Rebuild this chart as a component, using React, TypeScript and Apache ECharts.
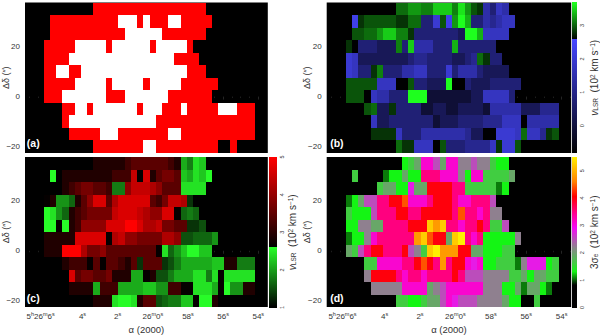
import React, { useEffect, useRef } from "react";
import * as echarts from "echarts";

const FONT = '"Liberation Sans", Arial, sans-serif';
const INK = "#333333";

// Each row: [first column, cell codes]. Rows run from dec 35" down to -20" in 5" steps.
const rowDec = [35, 30, 25, 20, 15, 10, 5, 0, -5, -10, -15, -20];

const maskRows: [number, string][] = [
  [11, "rrrrrrrrrrrrrrrrrr"],
  [4, "rrrrrrrrrrrwwwrwrrrwwrrrrr"],
  [4, "rrrrrrrrrrrrwwwwwwrrrrrrr"],
  [3, "rrrrrwwwwwrwwwwwwrwwwwwr"],
  [3, "rrrrwwwwwwwwwwwwwwwwwrrrr"],
  [3, "rrwwrrwwwwwwwwwwwwwwwwwrrr"],
  [3, "rrrrrwwwwwrwwwwwrwwwwwrrrrrr"],
  [3, "rrrwwwwwwwrrrwwwwwwwrrrrrrr"],
  [6, "rrwwrwwwwwwwrwwwrrrwrrrrrwwwrrr"],
  [6, "rwwwwwwwwwwwwwwrrrrrrrrrrrrrrrr"],
  [7, "rrrrrwwwrrrrrrrrwwrrrrrrrrrrrr"],
  [11, "rrrrrrrrwwrrrrrrrrrr..r"],
];

// digits: below the wedge break; capitals: above it
const velocityBRows: [number, string][] = [
  [11, "CCEEDDGGGDHEBA5365"],
  [4, "8ABBBBBAACC337B8EIF3354566"],
  [4, "BBCCEGGDDA33333332IIF6666"],
  [3, "A0333222D3G555333F333333"],
  [3, "762222222234433332234CA33"],
  [3, "7633AD33355663337355532222"],
  [3, "BBBBB66600B33222I00322233333"],
  [3, "BBB0655333III11111112266663"],
  [6, "BC22A33331122112222155555222444"],
  [7, "622333333312223333444666055555"],
  [7, "AAAA63335555555422007776C664AB"],
  [11, "CAA6660B33344446A77B"],
];

const velocityCRows: [number, string][] = [
  [11, "11111233333321FDHG"],
  [4, "I.1111111122270813443GFHGI"],
  [6, "12344332DD577765333HHHH"],
  [3, "01EEC135883688888324776A"],
  [3, "IHEC123444478887655880CDC"],
  [3, "II0I1255558889986674433AAB"],
  [3, "1111188888067554444665BBCCCE"],
  [3, "1119996445333333330HCEGIIGG"],
  [6, "122203033213A333ABDFFFFFGG11DDD"],
  [7, "8344334111FF01BBDFFFHHDH0HHHHH"],
  [7, "1111F222FFFFGGEE2200HHHF0IEE11"],
  [11, "111HIIH133BCDDGG0II1"],
];

const dispersionRows: [number, string][] = [
  [12, "bcdhhfdhheefeecbb"],
  [4, "c....abbdbbiiihhhebhhccccd"],
  [8, "cddbbgddjjjjiicccccab"],
  [3, "abdffiijjkhhhijjjihhiiif"],
  [3, "cbbbfiiijjiijjjjjikiihiee"],
  [3, "bbeeddiiiijjjmlmiihiijiccf"],
  [3, "abbehiiiiiilmkjjdmnihibbbbbe"],
  [3, "dcfijjiiijfecmnllljjddbbbcc"],
  [6, "cchhhhiijkjilijjhghbbcccaegggbc"],
  [6, "ejjjjihiihiiiijifffeeeeccdbddcc"],
  [7, "eeeeehhhhdefhhhhhheeebbdaddba"],
  [11, "ccbbcddfhgfffeeeedbb..c"],
];

// code -> value tables
const blueLevels = [-0.8, -0.1, 0.35, 0.75, 1.1, 1.45, 1.75, 2.0, 2.3, 2.58];
const greenLevelsB = [2.82, 2.96, 3.06, 3.15, 3.25, 3.36, 3.47, 3.58, 3.69];
const redLevels = [2.65, 2.9, 3.2, 3.45, 3.7, 3.95, 4.25, 4.45, 4.65, 5.0];
const greenLevelsC = [1.32, 1.5, 1.64, 1.78, 1.92, 2.07, 2.24, 2.42, 2.58];
const dispersionCodes = "abcdefghijklmn";
const dispersionLevels = [1.05, 1.3, 1.6, 1.9, 2.2, 2.5, 2.8, 3.1, 3.5, 4.0, 4.4, 4.8, 5.2, 5.5];

const raMajor = [6, 4, 2, 0, -2, -4, -6];
const raLabels = [
  "{n|5}{s|h}{n|26}{s|m}{n|6}{s|s}{p|\u00a0\u00a0\u00a0\u00a0\u00a0\u00a0}",
  "{n|4}{s|s}",
  "{n|2}{s|s}",
  "{n|26}{s|m}{n|0}{s|s}",
  "{n|58}{s|s}",
  "{n|56}{s|s}",
  "{n|54}{s|s}",
];
const raMinor = [7, 6.5, 5.5, 5, 4.5, 3.5, 3, 2.5, 1.5, 1, 0.5, -0.5, -1, -1.5, -2.5, -3, -3.5, -4.5, -5, -5.5, -6.5];
const decMajor = [-20, 0, 20];
const decMinor = [-10, 10, 30];

const RA_LEFT = 7.27;
const RA_RIGHT = -6.54;
const COL_W = 0.3541;
const ROW_H = 5;

const mix = (a: number[], b: number[], t: number) => {
  const c = a.map((v, i) => Math.round(v + (b[i] - v) * t));
  return `rgb(${c[0]},${c[1]},${c[2]})`;
};
const ramp = (stops: [number, number[]][], v: number) => {
  if (v <= stops[0][0]) return mix(stops[0][1], stops[0][1], 0);
  for (let i = 1; i < stops.length; i++) {
    if (v <= stops[i][0]) {
      return mix(stops[i - 1][1], stops[i][1], (v - stops[i - 1][0]) / (stops[i][0] - stops[i - 1][0]));
    }
  }
  return mix(stops[stops.length - 1][1], stops[stops.length - 1][1], 0);
};

const colorB = (v: number) =>
  v < 2.6
    ? mix([0, 0, 0], [70, 70, 255], Math.max(0, (v + 0.82) / 3.42))
    : mix([0, 0, 0], [30, 255, 30], (v - 2.6) / 1.09);
const colorC = (v: number) =>
  v < 2.6 ? mix([0, 0, 0], [40, 255, 40], (v - 1) / 1.6) : mix([0, 0, 0], [255, 0, 0], (v - 2.6) / 2.4);
const dStops: [number, number[]][] = [
  [0.8, [0, 0, 0]],
  [1.3, [20, 245, 20]],
  [1.6, [65, 205, 65]],
  [2.15, [136, 136, 136]],
  [2.9, [245, 10, 245]],
  [3.4, [255, 0, 150]],
  [4.05, [255, 0, 0]],
  [4.6, [255, 130, 0]],
  [5.5, [255, 240, 0]],
];
const colorD = (v: number) => ramp(dStops, v);
const colorA = (v: number) => (v === 1 ? "#ff0000" : "#ffffff");

const decodeA = (c: string) => (c === "r" ? 1 : 2);
const decodeB = (c: string) => (c >= "0" && c <= "9" ? blueLevels[+c] : greenLevelsB[c.charCodeAt(0) - 65]);
const decodeC = (c: string) => (c >= "0" && c <= "9" ? redLevels[+c] : greenLevelsC[c.charCodeAt(0) - 65]);
const decodeD = (c: string) => dispersionLevels[dispersionCodes.indexOf(c)];

const cells = (rows: [number, string][], decode: (c: string) => number) => {
  const out: number[][] = [];
  rows.forEach(([start, codes], r) => {
    codes.split("").forEach((c, i) => {
      if (c === ".") return;
      out.push([RA_LEFT - COL_W * (start + i + 0.5), rowDec[r], decode(c)]);
    });
  });
  return out;
};

const cellRenderer = (color: (v: number) => string) => (_: any, api: any) => {
  const x = api.value(0);
  const y = api.value(1);
  const p0 = api.coord([x + COL_W / 2, y + ROW_H / 2]);
  const p1 = api.coord([x - COL_W / 2, y - ROW_H / 2]);
  const x0 = Math.round(p0[0]);
  const y0 = Math.round(p0[1]);
  return {
    type: "rect",
    shape: { x: x0, y: y0, width: Math.round(p1[0]) - x0, height: Math.round(p1[1]) - y0 },
    style: { fill: color(api.value(2)) },
  };
};

const wedgeRenderer = (color: (v: number) => string, step: number) => (_: any, api: any) => {
  const v = api.value(1);
  const p0 = api.coord([0, v + step / 2]);
  const p1 = api.coord([1, v - step / 2]);
  const y0 = Math.round(p0[1]);
  return {
    type: "rect",
    shape: { x: p0[0], y: y0, width: p1[0] - p0[0], height: Math.max(1, Math.round(p1[1]) - y0) },
    style: { fill: color(v) },
  };
};

const wedgeValues = (lo: number, hi: number, n: number) => {
  const out: number[][] = [];
  for (let i = 0; i < n; i++) out.push([0.5, lo + ((hi - lo) * (i + 0.5)) / n]);
  return out;
};

const PANELS = [
  { left: 23.3, top: 2.5, rows: maskRows, decode: decodeA, color: colorA, labels: false, tag: "(a)" },
  { left: 326.7, top: 2.5, rows: velocityBRows, decode: decodeB, color: colorB, labels: false, tag: "(b)" },
  { left: 23.3, top: 157, rows: velocityCRows, decode: decodeC, color: colorC, labels: true, tag: "(c)" },
  { left: 326.7, top: 157, rows: dispersionRows, decode: decodeD, color: colorD, labels: true, tag: "(d)" },
];
const PW = 244.5;
const PH = 150.5;

const nameRich = {
  n: { fontSize: 10, fontFamily: FONT, color: INK },
  i: { fontSize: 10, fontFamily: FONT, color: INK, fontStyle: "italic" as const },
  u: { fontSize: 6.5, fontFamily: FONT, color: INK, verticalAlign: "top" as const, lineHeight: 10 },
  d: { fontSize: 6.5, fontFamily: FONT, color: INK, verticalAlign: "bottom" as const, lineHeight: 10 },
};
const velName = "{i|v}{d|LSR}{n|  (10}{u|2}{n| km s}{u|−1}{n|)}";
const sigName = "{n|3σ}{d|e}{n|  (10}{u|2}{n| km s}{u|−1}{n|)}";

const WEDGES = [
  { left: 572, top: 2.5, min: -0.82, max: 3.69, ticks: [0, 1, 2, 3], color: colorB, name: velName, gap: 12 },
  { left: 269, top: 157, min: 1, max: 5, ticks: [1, 2, 3, 4, 5], color: colorC, name: velName, gap: 10 },
  { left: 572, top: 157, min: 0, max: 5.5, ticks: [0, 1, 2, 3, 4, 5], color: colorD, name: sigName, gap: 12 },
];

export default function App() {
  const ref = useRef<HTMLDivElement>(null);
  useEffect(() => {
    document.body.style.margin = "0";
    const chart = echarts.init(ref.current!, null, { renderer: "svg" });
    const grid: any[] = [];
    const xAxis: any[] = [];
    const yAxis: any[] = [];
    const series: any[] = [];
    const graphic: any[] = [];

    PANELS.forEach((p) => {
      const g = grid.length;
      grid.push({ left: p.left, top: p.top, width: PW, height: PH, show: true, backgroundColor: "#000", borderWidth: 0 });
      const xi = xAxis.length;
      const yi = yAxis.length;
      const xBase = { type: "value", gridIndex: g, min: RA_RIGHT, max: RA_LEFT, inverse: true, position: "bottom", splitLine: { show: false }, axisLine: { show: false } };
      xAxis.push({
        ...xBase,
        axisTick: { show: true, length: 3, inside: false, lineStyle: { color: INK, width: 0.7 }, customValues: raMajor },
        axisLabel: p.labels
          ? {
              show: true,
              margin: 4,
              customValues: raMajor,
              formatter: (v: number) => raLabels[raMajor.indexOf(v)] ?? "",
              rich: {
                n: { fontSize: 8, fontFamily: FONT, color: INK, lineHeight: 10 },
                s: { fontSize: 5.5, fontFamily: FONT, color: INK, verticalAlign: "top", lineHeight: 10 },
                p: { fontSize: 8, fontFamily: FONT, color: INK, lineHeight: 10 },
              },
            }
          : { show: false },
        ...(p.labels
          ? { name: "α (2000)", nameMoveOverlap: false, nameLocation: "middle", nameGap: 17, nameTextStyle: { fontSize: 9.5, fontFamily: FONT, color: INK, verticalAlign: "top" } }
          : {}),
      });
      xAxis.push({
        ...xBase,
        axisTick: { show: true, length: 1.5, lineStyle: { color: INK, width: 0.6 }, customValues: raMinor },
        axisLabel: { show: false },
      });
      const yBase = { type: "value", gridIndex: g, min: -22.5, max: 37.5, position: "left", splitLine: { show: false }, axisLine: { show: false } };
      yAxis.push({
        ...yBase,
        axisTick: { show: true, length: 3, lineStyle: { color: INK, width: 0.7 }, customValues: decMajor },
        axisLabel: {
          show: true,
          margin: 5,
          customValues: decMajor,
          fontSize: 8,
          fontFamily: FONT,
          color: INK,
          formatter: (v: number) => String(v).replace("-", "−"),
        },
        name: "Δδ (″)",
        nameMoveOverlap: false,
        nameLocation: "middle",
        nameGap: 15,
        nameTextStyle: { fontSize: 9, fontFamily: FONT, color: INK },
      });
      yAxis.push({
        ...yBase,
        axisTick: { show: true, length: 1.5, lineStyle: { color: INK, width: 0.6 }, customValues: decMinor },
        axisLabel: { show: false },
      });
      series.push({
        type: "custom",
        xAxisIndex: xi,
        yAxisIndex: yi,
        coordinateSystem: "cartesian2d",
        data: cells(p.rows, p.decode),
        encode: { x: 0, y: 1 },
        renderItem: cellRenderer(p.color),
        silent: true,
        z: 2,
      });
      graphic.push({
        type: "text",
        x: p.left + 3.5,
        y: p.top + PH - 15.5,
        silent: true,
        z: 100,
        style: { text: p.tag, fill: "#fff", font: `bold 10.5px ${FONT}` },
      });
    });

    WEDGES.forEach((w) => {
      const g = grid.length;
      grid.push({ left: w.left, top: w.top, width: 8, height: PH, show: true, backgroundColor: "#000", borderWidth: 0 });
      const xi = xAxis.length;
      const yi = yAxis.length;
      xAxis.push({ type: "value", gridIndex: g, min: 0, max: 1, show: false });
      yAxis.push({
        type: "value",
        gridIndex: g,
        min: w.min,
        max: w.max,
        position: "right",
        splitLine: { show: false },
        axisLine: { show: false },
        axisTick: { show: true, length: 1.5, lineStyle: { color: INK, width: 0.6 }, customValues: w.ticks },
        axisLabel: { show: true, margin: 2, rotate: 90, fontSize: 5.5, fontFamily: FONT, color: INK, customValues: w.ticks },
        name: w.name,
        nameMoveOverlap: false,
        nameLocation: "middle",
        nameGap: w.gap,
        nameRotate: 90,
        nameTextStyle: { rich: nameRich, fontFamily: FONT },
      });
      const n = 150;
      series.push({
        type: "custom",
        xAxisIndex: xi,
        yAxisIndex: yi,
        coordinateSystem: "cartesian2d",
        data: wedgeValues(w.min, w.max, n),
        encode: { x: 0, y: 1 },
        renderItem: wedgeRenderer(w.color, (w.max - w.min) / n),
        silent: true,
      });
    });

    chart.setOption({ animation: false, backgroundColor: "#fff", grid, xAxis, yAxis, series, graphic });
    return () => chart.dispose();
  }, []);
  return <div ref={ref} style={{ width: 600, height: 335 }} />;
}
